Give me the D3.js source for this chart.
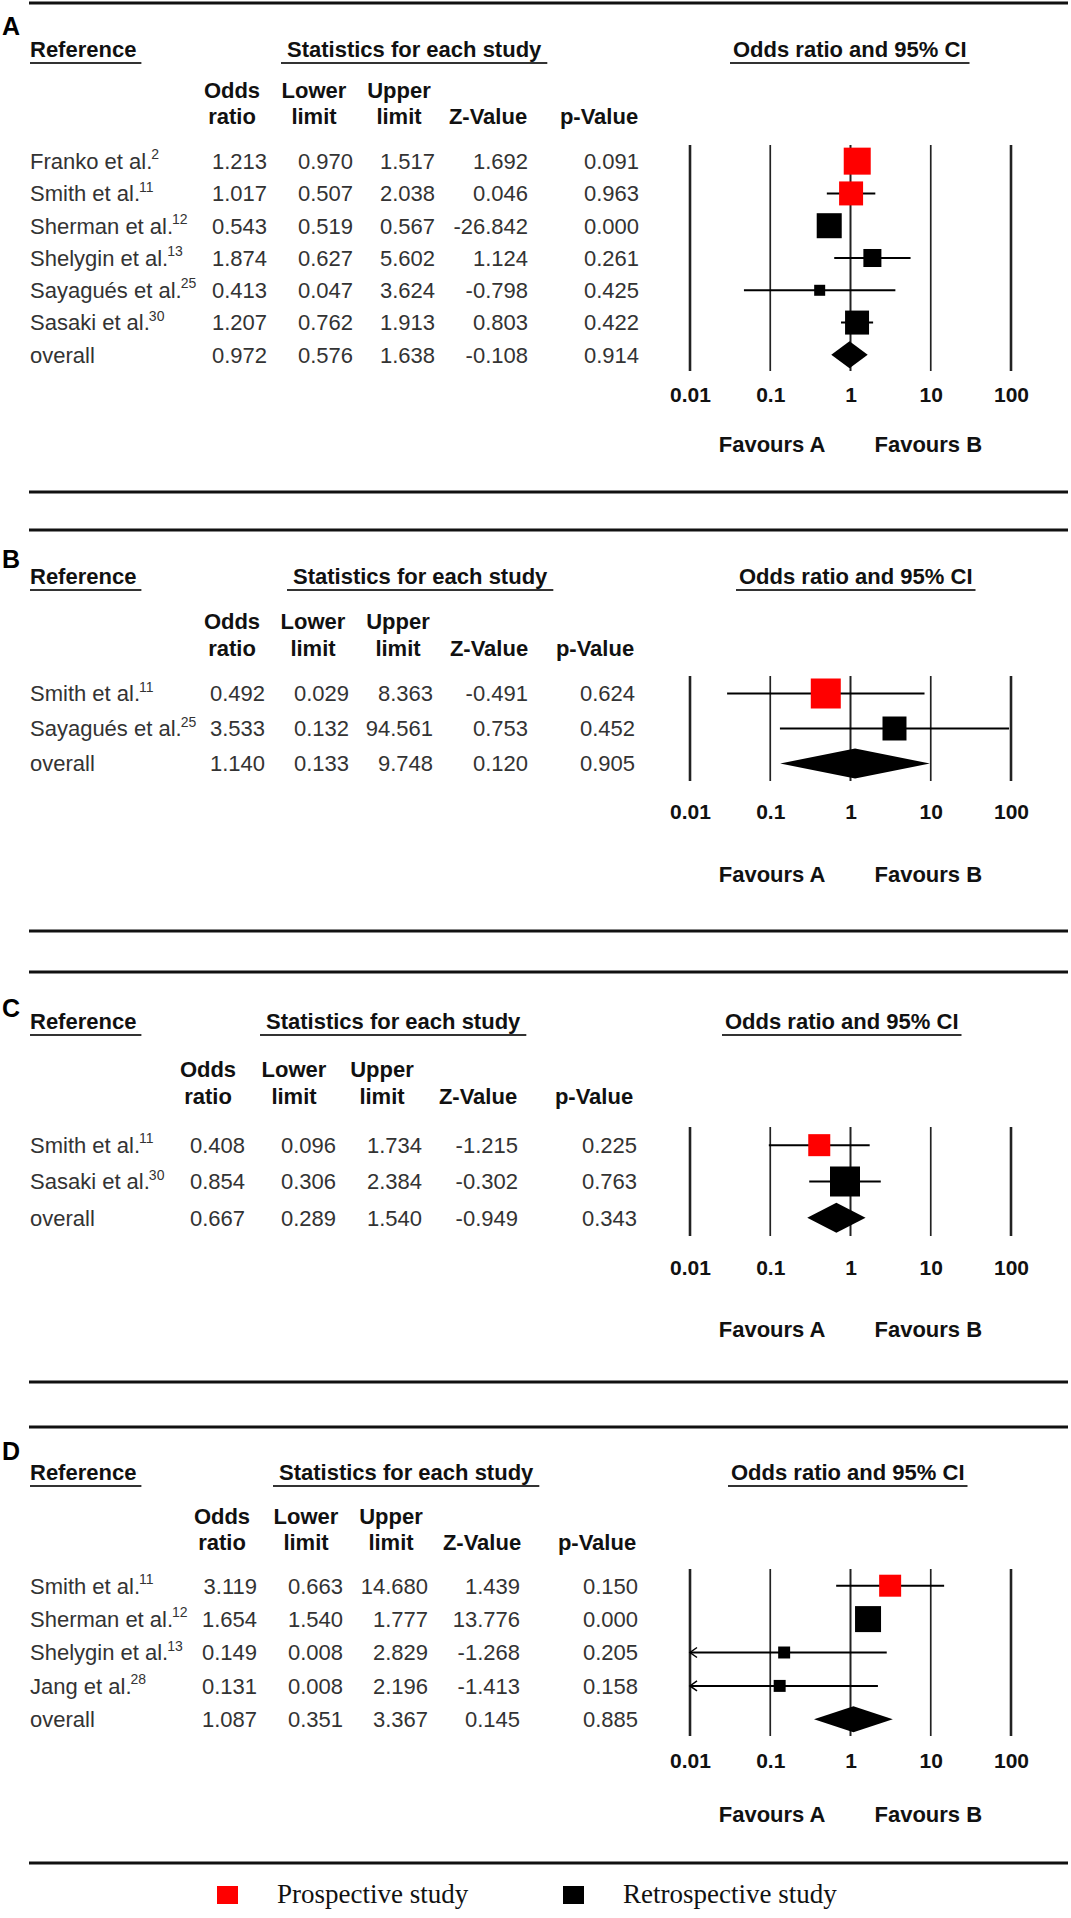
<!DOCTYPE html>
<html>
<head>
<meta charset="utf-8">
<script src="https://cdn.jsdelivr.net/npm/d3@7"></script>
<style>
  body { margin: 0; background: #fff; }
  svg { display: block; font-family: "Liberation Sans", Arial, sans-serif; }
</style>
</head>
<body>
<svg id="chart" width="1071" height="1918"></svg>
<script>
// ---- data ----
var panelIds = ["A", "B", "C", "D"]

var namesA  = ["Franko et al.", "Smith et al.", "Sherman et al.", "Shelygin et al.", "Sayagués et al.", "Sasaki et al.", "overall"]
var refsA   = ["2", "11", "12", "13", "25", "30", ""]
var oddsA   = [1.213, 1.017, 0.543, 1.874, 0.413, 1.207, 0.972]
var lowerA  = [0.970, 0.507, 0.519, 0.627, 0.047, 0.762, 0.576]
var upperA  = [1.517, 2.038, 0.567, 5.602, 3.624, 1.913, 1.638]
var zA      = [1.692, 0.046, -26.842, 1.124, -0.798, 0.803, -0.108]
var pA      = [0.091, 0.963, 0.000, 0.261, 0.425, 0.422, 0.914]
var designA = ["prospective", "prospective", "retrospective", "retrospective", "retrospective", "retrospective", "overall"]
var weightA = [24.7, 19.5, 21.2, 11.0, 4.1, 19.5, 0]

var namesB  = ["Smith et al.", "Sayagués et al.", "overall"]
var refsB   = ["11", "25", ""]
var oddsB   = [0.492, 3.533, 1.140]
var lowerB  = [0.029, 0.132, 0.133]
var upperB  = [8.363, 94.561, 9.748]
var zB      = [-0.491, 0.753, 0.120]
var pB      = [0.624, 0.452, 0.905]
var designB = ["prospective", "retrospective", "overall"]
var weightB = [61, 39, 0]

var namesC  = ["Smith et al.", "Sasaki et al.", "overall"]
var refsC   = ["11", "30", ""]
var oddsC   = [0.408, 0.854, 0.667]
var lowerC  = [0.096, 0.306, 0.289]
var upperC  = [1.734, 2.384, 1.540]
var zC      = [-1.215, -0.302, -0.949]
var pC      = [0.225, 0.763, 0.343]
var designC = ["prospective", "retrospective", "overall"]
var weightC = [35, 65, 0]

var namesD  = ["Smith et al.", "Sherman et al.", "Shelygin et al.", "Jang et al.", "overall"]
var refsD   = ["11", "12", "13", "28", ""]
var oddsD   = [3.119, 1.654, 0.149, 0.131, 1.087]
var lowerD  = [0.663, 1.540, 0.008, 0.008, 0.351]
var upperD  = [14.680, 1.777, 2.829, 2.196, 3.367]
var zD      = [1.439, 13.776, -1.268, -1.413, 0.145]
var pD      = [0.150, 0.000, 0.205, 0.158, 0.885]
var designD = ["prospective", "retrospective", "retrospective", "retrospective", "overall"]
var weightD = [33.4, 46.7, 9.9, 9.9, 0]

var tickValues = [0.01, 0.1, 1, 10, 100]
var tickLabels = ["0.01", "0.1", "1", "10", "100"]

var colHeads = [["Odds", "ratio"], ["Lower", "limit"], ["Upper", "limit"], ["", "Z-Value"], ["", "p-Value"]]
var legendLabels = ["Prospective study", "Retrospective study"]

var panelData = {
  A: [namesA, refsA, oddsA, lowerA, upperA, zA, pA, designA, weightA],
  B: [namesB, refsB, oddsB, lowerB, upperB, zB, pB, designB, weightB],
  C: [namesC, refsC, oddsC, lowerC, upperC, zC, pC, designC, weightC],
  D: [namesD, refsD, oddsD, lowerD, upperD, zD, pD, designD, weightD]
}

// ---- layout (pixels) ----
var layout = {
  A: { top: 3, label: 35, title: 57, hdr: [98, 124], rows: [145, 371], ticks: 402, favours: 452, bottom: 492,
       statsX: 287, ciX: 733, cols: [267, 353, 435, 528, 639], heads: [232, 314, 399, 488, 599], box: 27 },
  B: { top: 530, label: 568, title: 584, hdr: [629, 656], rows: [676, 781], ticks: 819, favours: 882, bottom: 931,
       statsX: 293, ciX: 739, cols: [265, 349, 433, 528, 635], heads: [232, 313, 398, 489, 595], box: 30 },
  C: { top: 972, label: 1017, title: 1029, hdr: [1077, 1104], rows: [1127, 1236], ticks: 1275, favours: 1337, bottom: 1382,
       statsX: 266, ciX: 725, cols: [245, 336, 422, 518, 637], heads: [208, 294, 382, 478, 594], box: 30 },
  D: { top: 1427, label: 1460, title: 1480, hdr: [1524, 1550], rows: [1569, 1736], ticks: 1768, favours: 1822, bottom: 1863,
       statsX: 279, ciX: 731, cols: [257, 343, 428, 520, 638], heads: [222, 306, 391, 482, 597], box: 26 }
}

var colors = { prospective: "#ff0000", retrospective: "#000000", overall: "#000000" }

// plain hyphen for negatives, like the original table
var fmt = d3.formatLocale({ decimal: ".", thousands: ",", grouping: [3], currency: ["", ""], minus: "-" }).format(".3f")

var svg = d3.select("svg#chart")
svg.append("rect").attr("width", 1071).attr("height", 1918).attr("fill", "#fff")

var x = d3.scaleLog().domain([0.01, 100]).range([690, 1011])

function underlined(g, tx, ty, text, padL, padR) {
  var t = g.append("text")
      .attr("x", tx).attr("y", ty)
      .attr("font-size", 22).attr("font-weight", "bold").attr("fill", "#111")
      .text(text)
  var w = t.node().getComputedTextLength()
  g.append("line")
      .attr("x1", tx - padL).attr("x2", tx + w + padR)
      .attr("y1", ty + 6).attr("y2", ty + 6)
      .attr("stroke", "#333").attr("stroke-width", 2)
}

function drawPanel(id) {
  var L = layout[id]
  var cols = panelData[id]
  var names = cols[0], refs = cols[1], odds = cols[2], lower = cols[3], upper = cols[4]
  var zv = cols[5], pv = cols[6], design = cols[7], weight = cols[8]
  var rows = names.map((n, i) => ({
    name: n, ref: refs[i], or: odds[i], lo: lower[i], hi: upper[i],
    z: zv[i], p: pv[i], design: design[i], w: weight[i]
  }))

  var g = svg.append("g").attr("class", "panel-" + id)

  // separator lines
  ;[L.top, L.bottom].forEach(yy => {
    g.append("line").attr("x1", 29).attr("x2", 1068).attr("y1", yy).attr("y2", yy)
        .attr("stroke", "#111").attr("stroke-width", 3)
  })

  g.append("text").attr("x", 2).attr("y", L.label)
      .attr("font-size", 25).attr("font-weight", "bold").attr("fill", "#000").text(id)

  underlined(g, 30, L.title, "Reference", 0, 5)
  underlined(g, L.statsX, L.title, "Statistics for each study", 6, 6)
  underlined(g, L.ciX, L.title, "Odds ratio and 95% CI", 3, 3)

  // column headers
  colHeads.forEach((h, j) => {
    h.forEach((line, k) => {
      if (!line) return
      g.append("text").attr("x", L.heads[j]).attr("y", L.hdr[k])
          .attr("text-anchor", "middle")
          .attr("font-size", 22).attr("font-weight", "bold").attr("fill", "#111")
          .text(line)
    })
  })

  var y = d3.scaleBand().domain(d3.range(rows.length)).range(L.rows)
  var cy = i => y(i) + y.bandwidth() / 2
  var size = d3.scaleSqrt().domain([0, d3.max(weight)]).range([0, L.box])

  // table body
  var body = g.append("g").attr("font-size", 22).attr("fill", "#333")
  rows.forEach((d, i) => {
    var t = body.append("text").attr("x", 30).attr("y", cy(i)).attr("dy", "0.36em")
    t.append("tspan").text(d.name)
    if (d.ref) t.append("tspan").attr("font-size", 14).attr("dx", -1).attr("dy", "-0.7em").text(d.ref)
    ;[d.or, d.lo, d.hi, d.z, d.p].forEach((v, j) => {
      body.append("text").attr("x", L.cols[j]).attr("y", cy(i)).attr("dy", "0.36em")
          .attr("text-anchor", "end").text(fmt(v))
    })
  })

  // reference lines
  g.append("g").selectAll("line").data(tickValues).join("line")
      .attr("x1", d => x(d)).attr("x2", d => x(d))
      .attr("y1", L.rows[0]).attr("y2", L.rows[1])
      .attr("stroke", "#222")
      .attr("stroke-width", d => (d === 0.01 || d === 100) ? 2.6 : (d === 1 ? 2 : 1.7))

  // tick labels through a bottom axis
  var axis = d3.axisBottom(x).tickValues(tickValues)
      .tickFormat((d, i) => tickLabels[i]).tickSize(0).tickPadding(0)
  var ag = g.append("g").attr("transform", "translate(0," + (L.ticks - 15) + ")").call(axis)
  ag.select(".domain").remove()
  ag.selectAll("text").attr("font-size", 21).attr("font-weight", "bold")
      .attr("fill", "#111").attr("font-family", "Liberation Sans, Arial, sans-serif")

  // study marks
  var marks = g.append("g")
  rows.forEach((d, i) => {
    var yy = cy(i)
    if (d.design === "overall") {
      var h = L.box / 2
      marks.append("path")
          .attr("d", "M" + x(d.lo) + "," + yy + "L" + x(d.or) + "," + (yy - h) +
                     "L" + x(d.hi) + "," + yy + "L" + x(d.or) + "," + (yy + h) + "Z")
          .attr("fill", "#000")
      return
    }
    var clipped = d.lo < x.domain()[0]
    var x0 = x(Math.max(d.lo, x.domain()[0])), x1 = x(Math.min(d.hi, x.domain()[1]))
    marks.append("line").attr("x1", x0).attr("x2", x1).attr("y1", yy).attr("y2", yy)
        .attr("stroke", "#000").attr("stroke-width", 2)
    if (clipped) {
      marks.append("path").attr("d", "M" + (x0 + 7) + "," + (yy - 5) + "L" + x0 + "," + yy + "L" + (x0 + 7) + "," + (yy + 5))
          .attr("fill", "none").attr("stroke", "#000").attr("stroke-width", 1.5)
    }
    var s = size(d.w)
    marks.append("rect").attr("x", x(d.or) - s / 2).attr("y", yy - s / 2)
        .attr("width", s).attr("height", s).attr("fill", colors[d.design])
  })

  // favours labels
  g.append("text").attr("x", x(1) - 25).attr("y", L.favours).attr("text-anchor", "end")
      .attr("font-size", 22).attr("font-weight", "bold").attr("fill", "#111").text("Favours A")
  g.append("text").attr("x", x(1) + 24).attr("y", L.favours)
      .attr("font-size", 22).attr("font-weight", "bold").attr("fill", "#111").text("Favours B")
}

panelIds.forEach(drawPanel)

// legend
var legend = svg.append("g").attr("font-family", "Liberation Serif, 'Times New Roman', serif")
var legendX = [217, 563]
legendLabels.forEach((lab, i) => {
  legend.append("rect").attr("x", legendX[i]).attr("y", 1886).attr("width", 21).attr("height", 18)
      .attr("fill", i === 0 ? colors.prospective : colors.retrospective)
  legend.append("text").attr("x", legendX[i] + 60).attr("y", 1903)
      .attr("font-size", 27).attr("fill", "#111").text(lab)
})
</script>
</body>
</html>
